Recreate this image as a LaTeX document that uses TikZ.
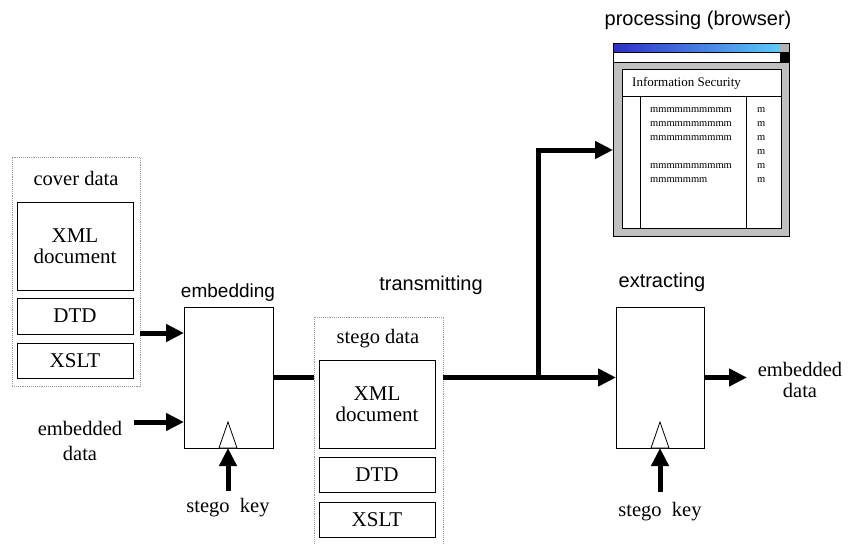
\documentclass[tikz,border=0pt]{standalone}
\usepackage{fontspec}
\setmainfont{Liberation Serif}
\newfontfamily\arialf{Liberation Sans}
\usetikzlibrary{arrows.meta}
\definecolor{barleft}{HTML}{2E2EC4}
\definecolor{barright}{HTML}{5CCBFA}
\definecolor{winbody}{HTML}{C0C0C0}
\begin{document}
\begin{tikzpicture}[x=1pt,y=-1pt,
  serif/.style={font=\fontsize{20.5}{22}\selectfont, align=center, inner sep=0pt},
  sanslabel/.style={font=\arialf\fontsize{20}{24}\selectfont, inner sep=0pt},
  part/.style={draw, line width=1pt, inner sep=0pt, outer sep=0pt, anchor=north west,
    font=\fontsize{21}{21.5}\selectfont, align=center},
  group/.style={draw=gray!80, densely dotted, line width=0.9pt, inner sep=0pt, outer sep=0pt, anchor=north west},
  block/.style={draw, line width=1pt, inner sep=0pt, outer sep=0pt, anchor=north west, fill=white},
  flow/.style={line width=5pt, -{Triangle[length=18pt,width=17pt]}},
  bus/.style={line width=5pt},
  keytri/.style={draw, line width=0.8pt, fill=white},
  tiny/.style={font=\fontsize{10.5}{12}\selectfont, inner sep=0pt, anchor=west},
]
\path[use as bounding box, clip] (0,0) rectangle (851,544);
\fill[white] (0,0) rectangle (851,544);

% ---------- cover data ----------
\node[group, minimum width=128pt, minimum height=229pt] (cover) at (12,157) {};
\node[serif] (coverlbl) at (76,178) {cover data};
\node[part, minimum width=116pt, minimum height=88pt] (cxml) at (17,202) {XML\\document};
\node[part, minimum width=116pt, minimum height=36pt] (cdtd) at (17,298) {DTD};
\node[part, minimum width=116pt, minimum height=35pt] (cxslt) at (17,343) {XSLT};

% ---------- embedding ----------
\node[block, minimum width=89pt, minimum height=141pt] (embed) at (184,307) {};
\node[sanslabel, font=\arialf\fontsize{19}{22}\selectfont] (embedlbl) at (228,293) {embedding};
\draw[keytri] (219,448) -- (228,422) -- (237,448) -- cycle;
\coordinate (y333) at (0,333);
\coordinate (edin) at (134,422);
\coordinate (skl) at (228,491);
\draw[flow] (cover.east |- y333) -- (embed.west |- y333);
\draw[flow] (edin) -- (embed.west |- edin);
\draw[flow] (skl) -- (skl |- embed.south);
\node[serif, font=\fontsize{20.5}{25}\selectfont] (edlbl) at (80,441) {embedded\\data};
\node[serif] (sklbl) at (228,508) {stego\ \ key};

% ---------- stego data ----------
\node[group, minimum width=129pt, minimum height=240pt] (stego) at (314,317) {};
\node[serif] (stegolbl) at (378,339) {stego data};
\node[part, minimum width=116pt, minimum height=88pt] (sxml) at (319,360) {XML\\document};
\node[part, minimum width=116pt, minimum height=35pt] (sdtd) at (319,457) {DTD};
\node[part, minimum width=116pt, minimum height=35pt] (sxslt) at (319,502) {XSLT};
\node[sanslabel] (translbl) at (431,285) {transmitting};

\draw[bus] (embed.east) -- (stego.west |- embed.east);

% ---------- extracting ----------
\node[block, minimum width=88pt, minimum height=141pt] (extract) at (616,307) {};
\node[sanslabel] (extlbl) at (662,282) {extracting};
\draw[keytri] (651,448) -- (660,422) -- (669,448) -- cycle;
\coordinate (skr) at (660,492);
\coordinate (edout) at (747,377.5);
\draw[flow] (skr) -- (skr |- extract.south);
\draw[flow] (extract.east) -- (edout);
\node[serif, font=\fontsize{20.5}{21}\selectfont] (edrlbl) at (800,380) {embedded\\data};
\node[serif] (skrlbl) at (660,512) {stego\ \ key};

% ---------- browser ----------
\node[draw, line width=1pt, fill=winbody, inner sep=0pt, outer sep=0pt, anchor=north west,
  minimum width=176pt, minimum height=193pt] (browser) at (613,43) {};
\shade[left color=barleft, right color=barright] (613,43) rectangle (780,52);
\fill[gray!60] (780,43) rectangle (789,52);
\fill[white] (613,52) rectangle (780,62);
\fill[black] (780,52) rectangle (789,62);
\draw[line width=1pt] (browser.north west) rectangle (browser.south east);
\draw[line width=0.8pt] (613,52) -- (789,52);
\draw[line width=0.8pt] (613,62) -- (789,62);
\node[block, minimum width=159pt, minimum height=159pt] (panel) at (622,69) {};
\coordinate (hdr) at (0,96);
\draw[line width=1pt] (panel.west |- hdr) -- (panel.east |- hdr);
\draw[line width=1pt] (640,96) -- (640,228);
\draw[line width=1pt] (746,96) -- (746,228);
\node[inner sep=0pt, anchor=west, font=\fontsize{13}{15}\selectfont] (infosec) at (632,83) {Information Security};
\node[tiny] (m1) at (650,110) {mmmmmmmmmm};
\node[tiny] (m2) at (650,124) {mmmmmmmmmm};
\node[tiny] (m3) at (650,138) {mmmmmmmmmm};
\node[tiny] (m4) at (650,166) {mmmmmmmmmm};
\node[tiny] (m5) at (650,180) {mmmmmmm};
\node[tiny] (r1) at (757,110) {m};
\node[tiny] (r2) at (757,124) {m};
\node[tiny] (r3) at (757,138) {m};
\node[tiny] (r4) at (757,152) {m};
\node[tiny] (r5) at (757,166) {m};
\node[tiny] (r6) at (757,180) {m};
\node[sanslabel] (proclbl) at (698,20) {processing (browser)};

% ---------- transmission ----------
\coordinate (branch) at (538,379.5);
\coordinate (y150) at (0,150);
\draw[flow] (stego.east |- embed.east) -- (extract.west);
\draw[flow, line join=miter] (branch) |- (browser.west |- y150);
\end{tikzpicture}
\end{document}
